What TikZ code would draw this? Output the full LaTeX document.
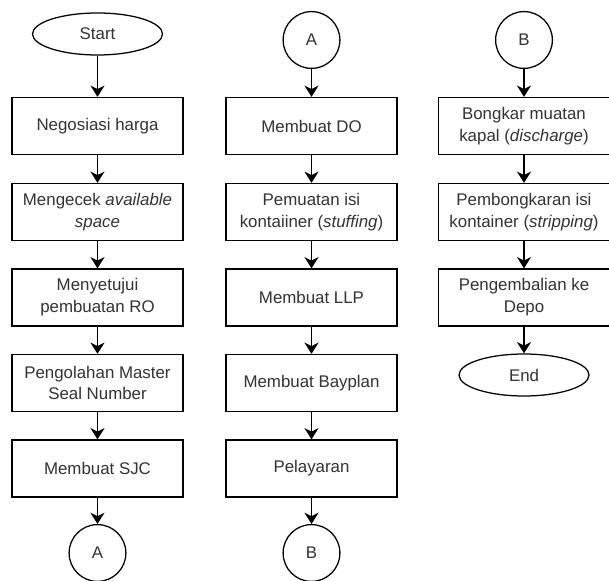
\documentclass[tikz,border=0pt]{standalone}
\usepackage{fontspec}
\setmainfont{Liberation Sans}
\usetikzlibrary{shapes.geometric,arrows.meta}
\tikzset{
  procbox/.style={draw=black, line width=0.9pt, fill=white, minimum width=4.275cm, minimum height=1.425cm, inner sep=0pt, align=center, text=black!80, font=\fontsize{12}{15.6}\selectfont},
  terminal/.style={ellipse, draw=black, line width=0.9pt, fill=white, minimum width=3.25cm, minimum height=1.05cm, inner sep=0pt, text=black!80, font=\fontsize{12}{15.6}\selectfont},
  offpage/.style={circle, draw=black, line width=0.9pt, fill=white, minimum size=1.42cm, inner sep=0pt, text=black!80, font=\fontsize{12}{15.6}\selectfont},
  flow/.style={draw=black, line width=0.9pt, -{Stealth[length=8pt, width=10pt, inset=2.5pt]}},
}

\begin{document}
\begin{tikzpicture}
\useasboundingbox (0,0) rectangle (15.225,14.5);
% first column
\node[terminal] (start) at (2.4375,13.65) {Start};
\node[procbox] (nego) at (2.4375,11.35) {Negosiasi harga};
\node[procbox] (cek) at (2.4375,9.2) {Mengecek \textit{available}\\\textit{space}};
\node[procbox] (ro) at (2.4375,7.0625) {Menyetujui\\pembuatan RO};
\node[procbox] (seal) at (2.4375,4.925) {Pengolahan Master\\Seal Number};
\node[procbox] (sjc) at (2.4375,2.7875) {Membuat SJC};
\node[offpage] (outa) at (2.4375,0.675) {A};
\draw[flow] (start) -- (nego);
\draw[flow] (nego) -- (cek);
\draw[flow] (cek) -- (ro);
\draw[flow] (ro) -- (seal);
\draw[flow] (seal) -- (sjc);
\draw[flow] (sjc) -- (outa);
% second column
\node[offpage] (ina) at (7.7875,13.5) {A};
\node[procbox] (do) at (7.7875,11.35) {Membuat DO};
\node[procbox] (stuff) at (7.7875,9.2) {Pemuatan isi\\kontaiiner (\textit{stuffing})};
\node[procbox] (llp) at (7.7875,7.0625) {Membuat LLP};
\node[procbox] (bay) at (7.7875,4.925) {Membuat Bayplan};
\node[procbox] (layar) at (7.7875,2.7875) {Pelayaran};
\node[offpage] (outb) at (7.7875,0.675) {B};
\draw[flow] (ina) -- (do);
\draw[flow] (do) -- (stuff);
\draw[flow] (stuff) -- (llp);
\draw[flow] (llp) -- (bay);
\draw[flow] (bay) -- (layar);
\draw[flow] (layar) -- (outb);
% third column
\node[offpage] (inb) at (13.1,13.5) {B};
\node[procbox] (bongkar) at (13.1,11.35) {Bongkar muatan\\kapal (\textit{discharge})};
\node[procbox] (strip) at (13.1,9.2) {Pembongkaran isi\\kontainer (\textit{stripping})};
\node[procbox] (depo) at (13.1,7.0625) {Pengembalian ke\\Depo};
\node[terminal] (end) at (13.1,5.125) {End};
\draw[flow] (inb) -- (bongkar);
\draw[flow] (bongkar) -- (strip);
\draw[flow] (strip) -- (depo);
\draw[flow] (depo) -- (end);
\end{tikzpicture}
\end{document}
